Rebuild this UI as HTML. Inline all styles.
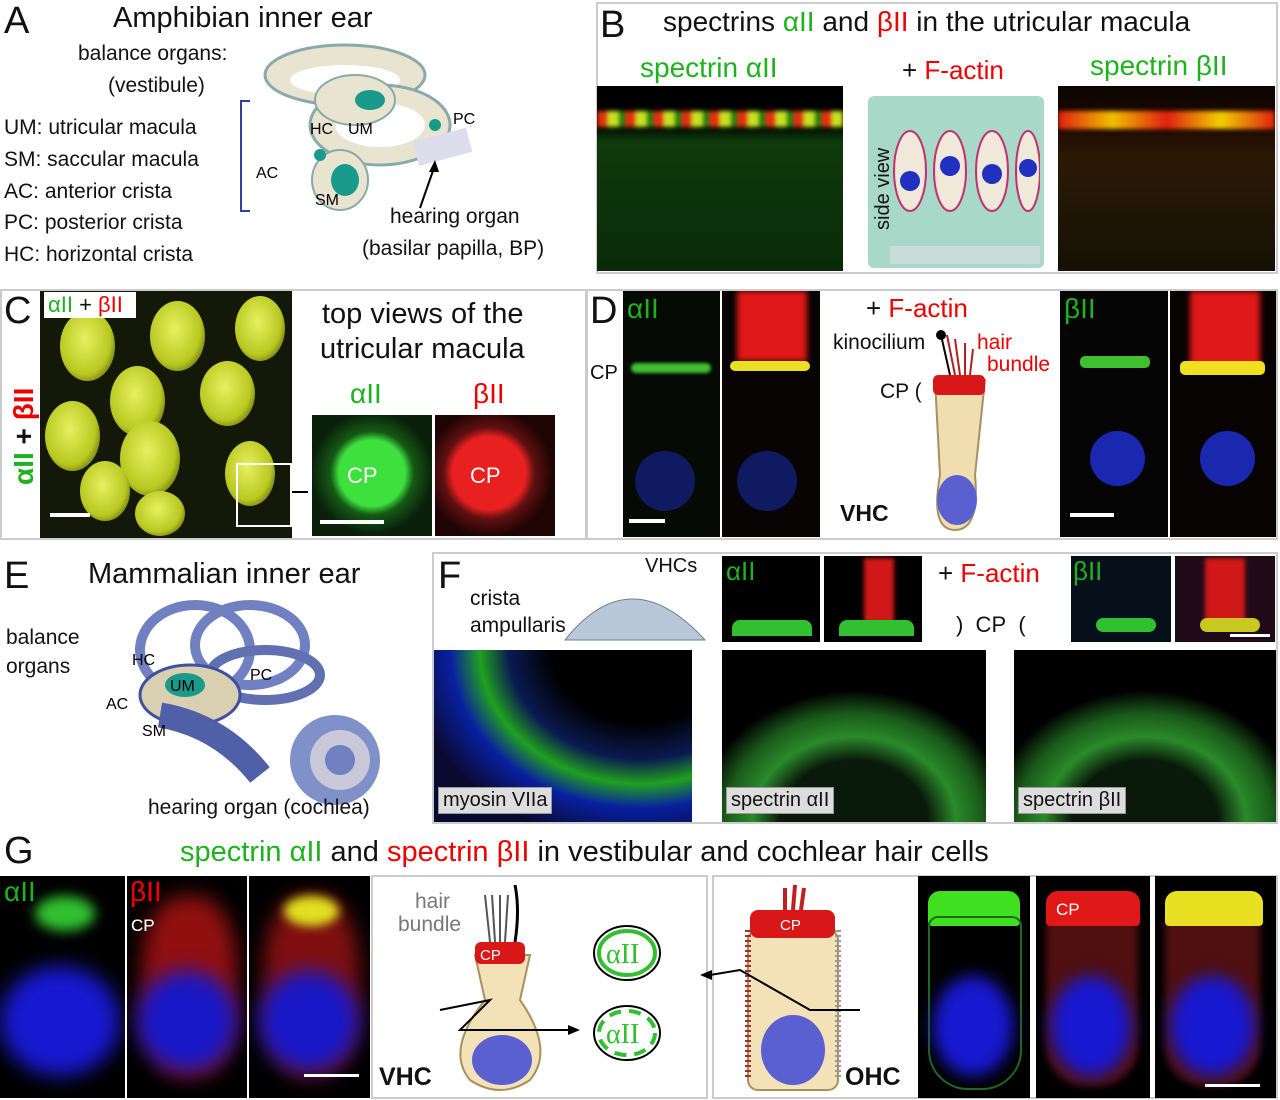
<!DOCTYPE html>
<html><head><meta charset="utf-8"><style>
body{margin:0;width:1280px;height:1100px;background:#fff;position:relative;overflow:hidden;font-family:"Liberation Sans",sans-serif;}
.a{position:absolute;}
.t{position:absolute;white-space:nowrap;color:#111;}
.box{position:absolute;border:2px solid #ccc;box-sizing:border-box;}
.blk{position:absolute;background:#000;overflow:hidden;}
.g{color:#1fb21f}.r{color:#e00}
.lab{position:absolute;background:#ddd;border:1px solid #999;font-size:20px;padding:1px 4px;color:#111;}
.ov{position:absolute;border-radius:50%;background:radial-gradient(ellipse at 45% 40%,#e8f060,#b8c820 60%,#5a6010 85%,transparent 90%);}
</style></head><body>

<!-- Panel A -->
<div class="t" style="left:4px;top:0;font-size:38px">A</div>
<div class="t" style="left:113px;top:2px;font-size:29px">Amphibian inner ear</div>
<div class="t" style="left:78px;top:42px;font-size:21px">balance organs:</div>
<div class="t" style="left:108px;top:74px;font-size:21px">(vestibule)</div>
<div class="t" style="left:4px;top:112px;font-size:21px;line-height:31.8px">UM: utricular macula<br>SM: saccular macula<br>AC: anterior crista<br>PC: posterior crista<br>HC: horizontal crista</div>
<div class="a" style="left:240px;top:100px;width:8px;height:108px;border:2px solid #3040a0;border-right:none"></div>
<svg class="a" style="left:250px;top:30px" width="240" height="190">
<ellipse cx="95" cy="45" rx="80" ry="30" fill="#e8e4d0" stroke="#8aa" stroke-width="3"/>
<ellipse cx="95" cy="50" rx="55" ry="15" fill="#fff"/>
<ellipse cx="130" cy="95" rx="70" ry="40" fill="#e8e4d0" stroke="#8aa" stroke-width="3"/>
<ellipse cx="130" cy="95" rx="45" ry="22" fill="#fff"/>
<ellipse cx="105" cy="70" rx="40" ry="25" fill="#e8e4d0" stroke="#8aa" stroke-width="2"/>
<ellipse cx="120" cy="70" rx="15" ry="10" fill="#1a9a8a"/>
<ellipse cx="90" cy="150" rx="28" ry="30" fill="#e8e4d0" stroke="#8aa" stroke-width="2"/>
<ellipse cx="95" cy="150" rx="14" ry="16" fill="#1a9a8a"/>
<circle cx="70" cy="125" r="6" fill="#1a9a8a"/><circle cx="185" cy="95" r="6" fill="#1a9a8a"/>
<rect x="165" y="105" width="55" height="25" fill="#dde" transform="rotate(-15 190 117)"/>
<text x="60" y="104" font-size="16" font-family="Liberation Sans">HC</text>
<text x="98" y="104" font-size="16" font-family="Liberation Sans">UM</text>
<text x="203" y="94" font-size="16" font-family="Liberation Sans">PC</text>
<text x="6" y="148" font-size="16" font-family="Liberation Sans">AC</text>
<text x="65" y="175" font-size="16" font-family="Liberation Sans">SM</text>
<line x1="170" y1="178" x2="185" y2="135" stroke="#000" stroke-width="2"/>
<polygon points="185,130 179,142 189,142" fill="#000"/>
</svg>
<div class="t" style="left:390px;top:205px;font-size:21px">hearing organ</div>
<div class="t" style="left:362px;top:237px;font-size:21px">(basilar papilla, BP)</div>

<!-- Panel B -->
<div class="box" style="left:596px;top:2px;width:682px;height:272px"></div>
<div class="t" style="left:600px;top:4px;font-size:38px">B</div>
<div class="t" style="left:663px;top:6px;font-size:28px">spectrins <span class="g">αII</span> and <span class="r">βII</span> in the utricular macula</div>
<div class="t g" style="left:640px;top:52px;font-size:28px">spectrin αII</div>
<div class="t" style="left:902px;top:55px;font-size:26px">+ <span class="r">F-actin</span></div>
<div class="t g" style="left:1090px;top:50px;font-size:28px">spectrin βII</div>
<div class="blk" style="left:597px;top:86px;width:246px;height:185px;background:linear-gradient(#000 0%,#000 20%,#0e3a0c 30%,#0a2a08 100%)">
<div class="a" style="left:0;top:25px;width:246px;height:16px;background:repeating-linear-gradient(90deg,#e03010 0 10px,#c8e020 10px 22px,#208010 22px 28px);filter:blur(2px)"></div></div>
<div class="a" style="left:868px;top:96px;width:176px;height:172px;background:#a8d8c8;border-radius:6px"></div>
<div class="t" style="left:872px;top:230px;font-size:20px;transform:rotate(-90deg);transform-origin:0 0">side view</div>
<svg class="a" style="left:890px;top:96px" width="150" height="170">
<g fill="#f0e8d8" stroke="#c03070" stroke-width="2">
<ellipse cx="20" cy="75" rx="16" ry="40"/><ellipse cx="60" cy="75" rx="16" ry="40"/><ellipse cx="102" cy="75" rx="16" ry="40"/><ellipse cx="138" cy="75" rx="12" ry="40"/></g>
<g fill="#2030c0"><circle cx="20" cy="85" r="10"/><circle cx="60" cy="70" r="10"/><circle cx="102" cy="78" r="10"/><circle cx="138" cy="72" r="9"/></g>
<rect x="0" y="150" width="150" height="18" fill="#c8dcd8"/>
</svg>
<div class="blk" style="left:1058px;top:86px;width:217px;height:185px;background:linear-gradient(#0a0500 0%,#200800 20%,#2a1a05 40%,#151005 100%)">
<div class="a" style="left:0;top:25px;width:217px;height:18px;background:linear-gradient(90deg,#e02010,#f0c000,#e02010,#f0d000,#e02010);filter:blur(2px)"></div></div>

<!-- Panel C -->
<div class="box" style="left:0;top:289px;width:587px;height:251px"></div>
<div class="blk" style="left:40px;top:291px;width:252px;height:247px;background:#141808">
<div class="ov" style="left:20px;top:20px;width:55px;height:70px"></div>
<div class="ov" style="left:110px;top:10px;width:55px;height:70px"></div>
<div class="ov" style="left:195px;top:5px;width:50px;height:65px"></div>
<div class="ov" style="left:70px;top:75px;width:55px;height:70px"></div>
<div class="ov" style="left:160px;top:70px;width:55px;height:65px"></div>
<div class="ov" style="left:5px;top:110px;width:55px;height:70px"></div>
<div class="ov" style="left:80px;top:130px;width:60px;height:75px"></div>
<div class="ov" style="left:185px;top:150px;width:50px;height:65px"></div>
<div class="ov" style="left:40px;top:170px;width:50px;height:60px"></div>
<div class="ov" style="left:95px;top:200px;width:50px;height:45px"></div>
<div class="a" style="left:196px;top:172px;width:52px;height:60px;border:2px solid #fff"></div>
<div class="a" style="left:10px;top:222px;width:40px;height:4px;background:#fff"></div>
</div>
<div class="t" style="left:4px;top:290px;font-size:38px">C</div>
<div class="a" style="left:44px;top:292px;width:92px;height:26px;background:#fff"></div>
<div class="t" style="left:48px;top:292px;font-size:22px"><span class="g">αII</span> + <span class="r">βII</span></div>
<div class="t" style="left:8px;top:485px;font-size:28px;transform:rotate(-90deg);transform-origin:0 0;font-weight:bold"><span class="g">αII</span> + <span class="r">βII</span></div>
<div class="a" style="left:292px;top:491px;width:16px;height:2px;background:#000"></div>
<div class="t" style="left:322px;top:298px;font-size:29px">top views of the</div>
<div class="t" style="left:320px;top:333px;font-size:29px">utricular macula</div>
<div class="t g" style="left:350px;top:378px;font-size:28px">αII</div>
<div class="t r" style="left:473px;top:378px;font-size:28px">βII</div>
<div class="blk" style="left:312px;top:415px;width:120px;height:121px;background:radial-gradient(circle at 50% 48%,#3ee03e 0 38%,#155a15 48%,#0a200a 70%)">
<div class="t" style="left:35px;top:48px;font-size:22px;color:#fff">CP</div>
<div class="a" style="left:8px;top:105px;width:64px;height:4px;background:#fff"></div></div>
<div class="blk" style="left:435px;top:415px;width:120px;height:121px;background:radial-gradient(circle at 45% 48%,#e82020 0 40%,#601010 50%,#200404 70%)">
<div class="t" style="left:35px;top:48px;font-size:22px;color:#fff">CP</div></div>

<!-- Panel D -->
<div class="box" style="left:586px;top:289px;width:692px;height:251px"></div>
<div class="t" style="left:590px;top:290px;font-size:38px">D</div>
<div class="blk" style="left:623px;top:291px;width:97px;height:246px;background:#050a05">
<div class="t g" style="left:4px;top:2px;font-size:28px">αII</div>
<div class="a" style="left:8px;top:72px;width:80px;height:10px;background:#40c030;border-radius:5px;filter:blur(1.5px)"></div>
<div class="a" style="left:12px;top:160px;width:60px;height:60px;border-radius:50%;background:#101a60"></div>
<div class="a" style="left:6px;top:228px;width:36px;height:4px;background:#fff"></div></div>
<div class="t" style="left:590px;top:362px;font-size:20px">CP</div>
<div class="blk" style="left:722px;top:291px;width:98px;height:246px;background:#080404">
<div class="a" style="left:15px;top:0;width:70px;height:70px;background:#e01818;filter:blur(3px)"></div>
<div class="a" style="left:8px;top:70px;width:80px;height:10px;background:#e8e020;border-radius:5px"></div>
<div class="a" style="left:15px;top:160px;width:60px;height:60px;border-radius:50%;background:#101a60"></div></div>
<div class="t" style="left:866px;top:293px;font-size:26px">+ <span class="r">F-actin</span></div>
<div class="t" style="left:833px;top:331px;font-size:21px">kinocilium</div>
<div class="t r" style="left:977px;top:331px;font-size:21px">hair</div>
<div class="t r" style="left:987px;top:353px;font-size:21px">bundle</div>
<div class="t" style="left:880px;top:380px;font-size:21px">CP (</div>
<div class="t" style="left:840px;top:500px;font-size:23px;font-weight:bold">VHC</div>
<svg class="a" style="left:925px;top:325px" width="70" height="210">
<path d="M10 55 L60 55 L50 150 Q55 205 30 205 Q5 205 15 150 Z" fill="#f0ddb0" stroke="#a89060" stroke-width="2"/>
<rect x="8" y="50" width="52" height="20" rx="5" fill="#d81818"/>
<ellipse cx="32" cy="175" rx="20" ry="25" fill="#5a60d0"/>
<g stroke="#b02020" stroke-width="2"><line x1="30" y1="50" x2="22" y2="10"/><line x1="35" y1="50" x2="30" y2="14"/><line x1="40" y1="50" x2="40" y2="18"/><line x1="45" y1="50" x2="48" y2="24"/></g>
<line x1="25" y1="50" x2="16" y2="10" stroke="#000" stroke-width="2"/><circle cx="16" cy="10" r="5" fill="#000"/>
</svg>
<div class="blk" style="left:1060px;top:291px;width:108px;height:246px;background:#050505">
<div class="t g" style="left:4px;top:2px;font-size:28px">βII</div>
<div class="a" style="left:20px;top:65px;width:70px;height:12px;background:#40c030;border-radius:5px"></div>
<div class="a" style="left:30px;top:140px;width:55px;height:55px;border-radius:50%;background:#1a28b0"></div>
<div class="a" style="left:10px;top:222px;width:44px;height:4px;background:#fff"></div></div>
<div class="blk" style="left:1170px;top:291px;width:106px;height:246px;background:#080303">
<div class="a" style="left:20px;top:0;width:70px;height:75px;background:#e01818;filter:blur(3px)"></div>
<div class="a" style="left:10px;top:70px;width:85px;height:14px;background:#f0e020;border-radius:5px"></div>
<div class="a" style="left:30px;top:140px;width:55px;height:55px;border-radius:50%;background:#1a28b0"></div></div>

<!-- Panel E -->
<div class="t" style="left:4px;top:555px;font-size:38px">E</div>
<div class="t" style="left:88px;top:558px;font-size:29px">Mammalian inner ear</div>
<div class="t" style="left:6px;top:626px;font-size:21px">balance</div>
<div class="t" style="left:6px;top:655px;font-size:21px">organs</div>
<svg class="a" style="left:100px;top:595px" width="320" height="210">
<ellipse cx="95" cy="55" rx="55" ry="45" fill="none" stroke="#7080c0" stroke-width="10"/>
<ellipse cx="150" cy="50" rx="55" ry="40" fill="none" stroke="#7080c0" stroke-width="10"/>
<ellipse cx="165" cy="80" rx="55" ry="25" fill="none" stroke="#6070b0" stroke-width="10"/>
<ellipse cx="90" cy="100" rx="50" ry="30" fill="#d8d0b0" stroke="#4050a0" stroke-width="3"/>
<ellipse cx="85" cy="90" rx="20" ry="12" fill="#1a9a8a"/>
<path d="M60 120 Q120 130 160 180" stroke="#5060a8" stroke-width="25" fill="none"/>
<circle cx="235" cy="165" r="45" fill="#8090c8"/><circle cx="240" cy="165" r="30" fill="#c8c8d8"/><circle cx="240" cy="165" r="15" fill="#7080c0"/>
<text x="32" y="70" font-size="16" font-family="Liberation Sans">HC</text>
<text x="70" y="96" font-size="16" font-family="Liberation Sans">UM</text>
<text x="150" y="85" font-size="16" font-family="Liberation Sans">PC</text>
<text x="6" y="114" font-size="16" font-family="Liberation Sans">AC</text>
<text x="42" y="141" font-size="16" font-family="Liberation Sans">SM</text>
</svg>
<div class="t" style="left:148px;top:796px;font-size:21px">hearing organ (cochlea)</div>

<!-- Panel F -->
<div class="box" style="left:432px;top:552px;width:846px;height:272px"></div>
<div class="t" style="left:438px;top:555px;font-size:38px">F</div>
<div class="t" style="left:470px;top:587px;font-size:21px">crista</div>
<div class="t" style="left:470px;top:614px;font-size:21px">ampullaris</div>
<svg class="a" style="left:560px;top:578px" width="150" height="65"><path d="M5 62 Q70 -20 145 62Z" fill="#b8c8d8" stroke="#708090"/></svg>
<div class="t" style="left:645px;top:555px;font-size:20px">VHCs</div>
<div class="blk" style="left:722px;top:556px;width:98px;height:86px">
<div class="t g" style="left:4px;top:0;font-size:26px">αII</div>
<div class="a" style="left:10px;top:64px;width:80px;height:16px;background:#30c030;border-radius:8px 8px 0 0"></div></div>
<div class="blk" style="left:824px;top:556px;width:98px;height:86px">
<div class="a" style="left:40px;top:2px;width:30px;height:65px;background:#d01818;filter:blur(2px)"></div>
<div class="a" style="left:15px;top:64px;width:75px;height:16px;background:#30c030;border-radius:8px 8px 0 0"></div></div>
<div class="t" style="left:938px;top:558px;font-size:26px">+ <span class="r">F-actin</span></div>
<div class="t" style="left:956px;top:612px;font-size:22px">)&nbsp; CP&nbsp; (</div>
<div class="blk" style="left:1071px;top:556px;width:100px;height:86px;background:#06101a">
<div class="t g" style="left:2px;top:0;font-size:26px">βII</div>
<div class="a" style="left:25px;top:62px;width:60px;height:14px;background:#30c030;border-radius:7px"></div></div>
<div class="blk" style="left:1175px;top:556px;width:100px;height:86px;background:#200a18">
<div class="a" style="left:30px;top:2px;width:40px;height:65px;background:#d01818;filter:blur(2px)"></div>
<div class="a" style="left:25px;top:62px;width:60px;height:14px;background:#c8c820;border-radius:7px"></div>
<div class="a" style="left:55px;top:78px;width:40px;height:3px;background:#fff"></div></div>
<div class="blk" style="left:434px;top:650px;width:258px;height:172px;background:radial-gradient(ellipse at 80% 0%,#000 30%,#0a1a50 45%,#20a020 55%,#0820a0 65%,#0a0a30 80%)">
<div class="lab" style="left:4px;top:137px">myosin VIIa</div></div>
<div class="blk" style="left:722px;top:650px;width:264px;height:172px;background:radial-gradient(ellipse 70% 90% at 50% 100%,#0a1a0a 40%,#2a8a2a 55%,#1a5a1a 70%,#000 85%)">
<div class="lab" style="left:4px;top:137px">spectrin αII</div></div>
<div class="blk" style="left:1014px;top:650px;width:262px;height:172px;background:radial-gradient(ellipse 70% 90% at 50% 100%,#0a1a0a 40%,#2a8a2a 55%,#1a5a1a 70%,#000 85%)">
<div class="lab" style="left:4px;top:137px">spectrin βII</div></div>

<!-- Panel G -->
<div class="t" style="left:4px;top:830px;font-size:38px">G</div>
<div class="t" style="left:180px;top:836px;font-size:29px"><span class="g">spectrin αII</span> and <span class="r">spectrin βII</span> in vestibular and cochlear hair cells</div>
<div class="blk" style="left:0;top:876px;width:125px;height:222px;background:#000">
<div class="t g" style="left:4px;top:0;font-size:28px">αII</div>
<div class="a" style="left:35px;top:20px;width:60px;height:35px;background:#30c030;border-radius:50%;filter:blur(6px)"></div>
<div class="a" style="left:0;top:90px;width:120px;height:110px;background:#1818d0;border-radius:50%;filter:blur(10px)"></div></div>
<div class="blk" style="left:127px;top:876px;width:120px;height:222px;background:#000">
<div class="t r" style="left:3px;top:0;font-size:28px">βII</div>
<div class="t" style="left:4px;top:40px;font-size:17px;color:#fff">CP</div>
<div class="a" style="left:15px;top:20px;width:95px;height:180px;background:#901010;border-radius:40%;filter:blur(10px)"></div>
<div class="a" style="left:10px;top:95px;width:100px;height:100px;background:#1818c8;border-radius:50%;filter:blur(10px)"></div>
<div class="t r" style="left:3px;top:0;font-size:28px">βII</div>
<div class="t" style="left:4px;top:40px;font-size:17px;color:#fff">CP</div></div>
<div class="blk" style="left:249px;top:876px;width:121px;height:222px;background:#000">
<div class="a" style="left:15px;top:20px;width:95px;height:180px;background:#801010;border-radius:40%;filter:blur(10px)"></div>
<div class="a" style="left:35px;top:20px;width:55px;height:30px;background:#e0e020;border-radius:50%;filter:blur(5px)"></div>
<div class="a" style="left:10px;top:95px;width:100px;height:100px;background:#1818c8;border-radius:50%;filter:blur(10px)"></div>
<div class="a" style="left:55px;top:198px;width:55px;height:3px;background:#fff"></div></div>
<div class="box" style="left:371px;top:875px;width:337px;height:224px"></div>
<div class="t" style="left:415px;top:890px;font-size:21px;color:#777">hair</div>
<div class="t" style="left:398px;top:913px;font-size:21px;color:#777">bundle</div>
<svg class="a" style="left:380px;top:880px" width="320" height="215">
<path d="M95 75 L150 75 L140 120 Q175 170 150 200 Q120 220 90 200 Q65 170 105 120 Z" fill="#f3e2b8" stroke="#a89060" stroke-width="2"/>
<rect x="95" y="62" width="50" height="22" rx="6" fill="#d81818"/>
<text x="100" y="80" font-size="15" fill="#fff" font-family="Liberation Sans">CP</text>
<ellipse cx="122" cy="180" rx="30" ry="25" fill="#5a60d0"/>
<g stroke="#555" stroke-width="2"><line x1="110" y1="62" x2="105" y2="15"/><line x1="115" y1="62" x2="112" y2="15"/><line x1="120" y1="62" x2="120" y2="15"/><line x1="125" y1="62" x2="128" y2="15"/></g>
<path d="M135 62 Q140 30 135 5" stroke="#000" stroke-width="3" fill="none"/>
<polyline points="60,130 110,120 80,150 190,150" fill="none" stroke="#000" stroke-width="2"/>
<polygon points="200,150 188,145 188,155" fill="#000"/>
<ellipse cx="247" cy="73" rx="33" ry="27" fill="#fff" stroke="#000" stroke-width="2"/>
<ellipse cx="247" cy="73" rx="28" ry="22" fill="none" stroke="#30c030" stroke-width="4"/>
<text x="226" y="83" font-size="28" fill="#30c030" font-family="Liberation Serif">αII</text>
<ellipse cx="247" cy="153" rx="33" ry="27" fill="#fff" stroke="#000" stroke-width="2"/>
<ellipse cx="247" cy="153" rx="28" ry="22" fill="none" stroke="#30c030" stroke-width="4" stroke-dasharray="12 8"/>
<text x="226" y="163" font-size="28" fill="#30c030" font-family="Liberation Serif">αII</text>
</svg>
<div class="t" style="left:379px;top:1063px;font-size:25px;font-weight:bold">VHC</div>
<div class="box" style="left:712px;top:875px;width:566px;height:224px"></div>
<svg class="a" style="left:680px;top:880px" width="240" height="215">
<rect x="68" y="50" width="90" height="160" rx="10" fill="#f3e2b8" stroke="#a89060" stroke-width="2"/>
<rect x="70" y="30" width="85" height="28" rx="8" fill="#d81818"/>
<text x="100" y="50" font-size="15" fill="#fff" font-family="Liberation Sans">CP</text>
<ellipse cx="113" cy="170" rx="32" ry="35" fill="#5a60d0"/>
<g stroke="#c02020" stroke-width="4"><line x1="105" y1="30" x2="105" y2="8"/><line x1="113" y1="30" x2="115" y2="5"/><line x1="121" y1="30" x2="124" y2="8"/></g>
<line x1="68" y1="50" x2="68" y2="200" stroke="#a03030" stroke-width="6" stroke-dasharray="2 3"/>
<line x1="158" y1="50" x2="158" y2="200" stroke="#999" stroke-width="6" stroke-dasharray="2 3"/>
<polyline points="180,130 130,130 60,90 30,95" fill="none" stroke="#000" stroke-width="2"/>
<polygon points="20,95 32,90 32,100" fill="#000"/>
</svg>
<div class="t" style="left:845px;top:1063px;font-size:25px;font-weight:bold">OHC</div>
<div class="blk" style="left:918px;top:876px;width:112px;height:222px">
<div class="a" style="left:10px;top:15px;width:92px;height:35px;background:#40e020;border-radius:12px 12px 4px 4px"></div>
<div class="a" style="left:10px;top:40px;width:90px;height:170px;border:2px solid #206a20;border-radius:10px 10px 40px 40px"></div>
<div class="a" style="left:15px;top:100px;width:80px;height:100px;background:#1818d0;border-radius:50%;filter:blur(8px)"></div></div>
<div class="blk" style="left:1036px;top:876px;width:114px;height:222px">
<div class="a" style="left:10px;top:40px;width:92px;height:170px;background:#501010;border-radius:10px 10px 40px 40px;filter:blur(4px)"></div>
<div class="a" style="left:10px;top:15px;width:94px;height:35px;background:#e01818;border-radius:12px 12px 4px 4px"></div>
<div class="t" style="left:20px;top:24px;font-size:17px;color:#fff">CP</div>
<div class="a" style="left:15px;top:100px;width:80px;height:100px;background:#1818d0;border-radius:50%;filter:blur(8px)"></div></div>
<div class="blk" style="left:1155px;top:876px;width:121px;height:222px">
<div class="a" style="left:10px;top:40px;width:95px;height:170px;background:#501010;border-radius:10px 10px 40px 40px;filter:blur(4px)"></div>
<div class="a" style="left:10px;top:15px;width:98px;height:35px;background:#e8e020;border-radius:12px 12px 4px 4px"></div>
<div class="a" style="left:15px;top:100px;width:85px;height:100px;background:#1818d0;border-radius:50%;filter:blur(8px)"></div>
<div class="a" style="left:50px;top:208px;width:55px;height:3px;background:#fff"></div></div>
</body></html>
